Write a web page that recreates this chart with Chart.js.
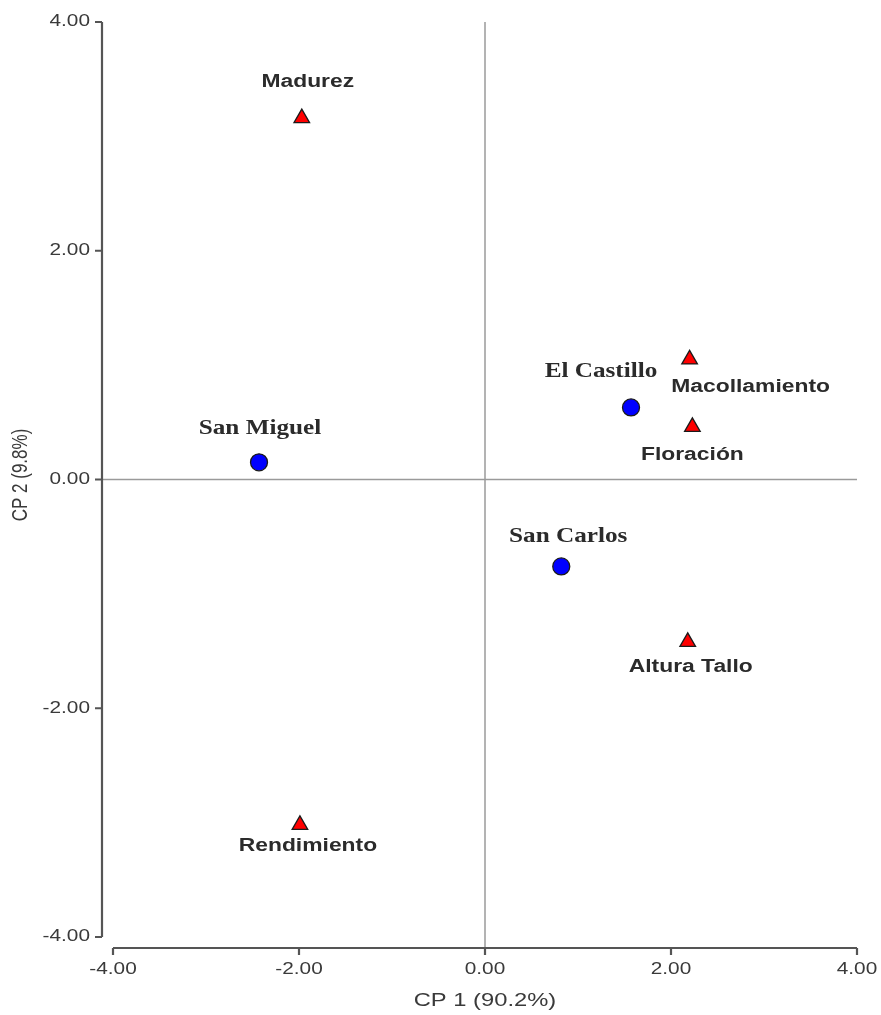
<!DOCTYPE html>
<html>
<head>
<meta charset="utf-8">
<script src="https://cdn.jsdelivr.net/npm/chart.js@4"></script>
<style>
html,body{margin:0;padding:0;background:#fff;}
#wrap{width:881px;height:1015px;}
</style>
</head>
<body>
<div id="wrap"><canvas id="c" width="881" height="1015"></canvas></div>
<script>
// Variables (triangles)
const varNames = ["Madurez", "Macollamiento", "Floración", "Altura Tallo", "Rendimiento"];
const varX = [-1.97, 2.20, 2.23, 2.18, -1.99];
const varY = [3.16, 1.05, 0.46, -1.42, -3.02];
// Localities (circles)
const locNames = ["San Miguel", "El Castillo", "San Carlos"];
const locX = [-2.43, 1.57, 0.82];
const locY = [0.15, 0.63, -0.76];
// Axis ticks
const xTicks = [-4, -2, 0, 2, 4];
const yTicks = [-4, -2, 0, 2, 4];
const xTitle = "CP 1 (90.2%)";
const yTitle = "CP 2 (9.8%)";

// label offsets in pixels (layout only)
const varLabelOff = [[6,-36],[61,28],[0,28],[3,25],[8,21]];
const locLabelOff = [[1,-34],[-30,-36],[7,-30]];

const fmt = v => v.toFixed(2);
const SX = 1.27; // horizontal stretch of the original picture

function stretchText(ctx, t, x, y, sx, align) {
  ctx.save();
  ctx.translate(x, y);
  ctx.scale(sx, 1);
  ctx.textAlign = align || 'center';
  ctx.fillText(t, 0, 0);
  ctx.restore();
}

const axesPlugin = {
  id: 'axesPlugin',
  beforeDatasetsDraw(chart) {
    const ctx = chart.ctx, xs = chart.scales.x, ys = chart.scales.y;
    const x0 = xs.getPixelForValue(0), y0 = ys.getPixelForValue(0);
    const yTop = ys.getPixelForValue(4), yBot = ys.getPixelForValue(-4);
    const xL = xs.getPixelForValue(-4), xR = xs.getPixelForValue(4);
    const yAxisX = xL - 11, xAxisY = yBot + 11;
    ctx.save();
    // zero lines
    ctx.strokeStyle = '#9a9a9a'; ctx.lineWidth = 1.5;
    ctx.beginPath();
    ctx.moveTo(x0, yTop); ctx.lineTo(x0, xAxisY);
    ctx.moveTo(yAxisX, y0); ctx.lineTo(xR, y0);
    ctx.stroke();
    // y axis
    ctx.strokeStyle = '#555'; ctx.lineWidth = 2.2;
    ctx.beginPath();
    ctx.moveTo(yAxisX, yTop); ctx.lineTo(yAxisX, yBot);
    yTicks.forEach(v => { const p = ys.getPixelForValue(v); ctx.moveTo(yAxisX - 7, p); ctx.lineTo(yAxisX, p); });
    // x axis
    ctx.moveTo(xL, xAxisY); ctx.lineTo(xR, xAxisY);
    xTicks.forEach(v => { const p = xs.getPixelForValue(v); ctx.moveTo(p, xAxisY); ctx.lineTo(p, xAxisY + 7); });
    ctx.stroke();
    // tick labels
    ctx.fillStyle = '#3a3a3a';
    ctx.font = '16px "Liberation Sans", Arial, sans-serif';
    ctx.textBaseline = 'middle';
    yTicks.forEach(v => stretchText(ctx, fmt(v), yAxisX - 12, ys.getPixelForValue(v), 1.3, 'right'));
    xTicks.forEach(v => stretchText(ctx, fmt(v), xs.getPixelForValue(v), xAxisY + 22, 1.3, 'center'));
    // titles
    ctx.font = '19px "Liberation Sans", Arial, sans-serif';
    stretchText(ctx, xTitle, x0, xAxisY + 53, 1.25, 'center');
    ctx.save();
    ctx.translate(21, 475);
    ctx.rotate(-Math.PI / 2);
    ctx.scale(1, 1.27);
    ctx.font = '17px "Liberation Sans", Arial, sans-serif';
    ctx.textAlign = 'center';
    ctx.fillText(yTitle, 0, 0);
    ctx.restore();
    ctx.restore();
  },
  afterDatasetsDraw(chart) {
    const ctx = chart.ctx, xs = chart.scales.x, ys = chart.scales.y;
    ctx.save();
    ctx.fillStyle = '#2b2b2b';
    ctx.textBaseline = 'middle';
    ctx.font = 'bold 18px "Liberation Sans", Arial, sans-serif';
    varNames.forEach((n, i) => {
      stretchText(ctx, n, xs.getPixelForValue(varX[i]) + varLabelOff[i][0], ys.getPixelForValue(varY[i]) + varLabelOff[i][1], SX, 'center');
    });
    ctx.font = 'bold 21px "Liberation Serif", "Times New Roman", serif';
    locNames.forEach((n, i) => {
      stretchText(ctx, n, xs.getPixelForValue(locX[i]) + locLabelOff[i][0], ys.getPixelForValue(locY[i]) + locLabelOff[i][1], 1.2, 'center');
    });
    ctx.restore();
  }
};

new Chart(document.getElementById('c'), {
  type: 'scatter',
  data: {
    datasets: [
      {
        label: 'Variables',
        data: varX.map((x, i) => ({ x, y: varY[i] })),
        pointStyle: 'triangle',
        pointRadius: 9,
        backgroundColor: '#ff0000',
        borderColor: '#1a1a1a',
        borderWidth: 1.3
      },
      {
        label: 'Localidades',
        data: locX.map((x, i) => ({ x, y: locY[i] })),
        pointStyle: 'circle',
        pointRadius: 8.5,
        backgroundColor: '#0000ff',
        borderColor: '#1a1a1a',
        borderWidth: 1.3
      }
    ]
  },
  options: {
    responsive: false,
    animation: false,
    layout: { padding: { left: 113, right: 24, top: 22, bottom: 78 } },
    plugins: { legend: { display: false }, tooltip: { enabled: false } },
    scales: {
      x: { type: 'linear', min: -4, max: 4, display: false },
      y: { type: 'linear', min: -4, max: 4, display: false }
    }
  },
  plugins: [axesPlugin]
});
</script>
</body>
</html>
